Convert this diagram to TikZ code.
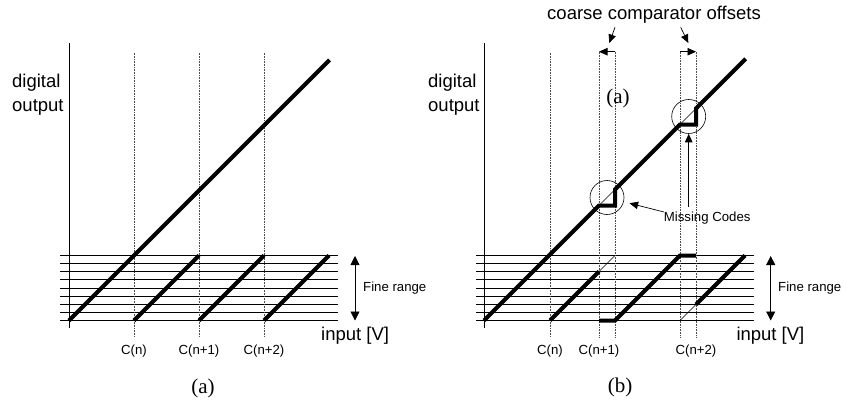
\documentclass[tikz,border=0pt]{standalone}
\usepackage{fontspec}
\setmainfont{Liberation Serif}
\setsansfont{Liberation Sans}
\usetikzlibrary{arrows.meta}
\begin{document}
\begin{tikzpicture}[x=1pt,y=-1pt,
  axis/.style={line width=0.9pt},
  gridline/.style={line width=0.85pt},
  guide/.style={line width=0.6pt, densely dotted, black!70},
  curve/.style={line width=4pt, line join=miter},
  thinline/.style={line width=0.5pt},
  dbl/.style={line width=0.8pt, {Triangle[length=9pt,width=9pt]}-{Triangle[length=9pt,width=9pt]}},
  pointer/.style={line width=0.7pt, -{Triangle[length=8.5pt,width=7.5pt]}},
  ring/.style={circle, draw, line width=0.6pt, minimum size=34pt, inner sep=0pt},
  big/.style={font=\sffamily\fontsize{18.5}{24}\selectfont, inner sep=0pt},
  small/.style={font=\sffamily\fontsize{13.2}{15}\selectfont, inner sep=0pt},
  captext/.style={font=\rmfamily\fontsize{21}{24}\selectfont, inner sep=0pt},
]
\useasboundingbox (0,0) rectangle (846,404);

% ---------------- panel (a) ----------------
\draw[axis] (69,43) -- (69,328);
\foreach \k in {0,...,8} \draw[gridline] (60,{255.5+\k*8.125}) -- (338,{255.5+\k*8.125});
\foreach \x in {134,199,264} \draw[guide] (\x,52.7) -- (\x,337.3);
\draw[curve] (69,320.5) -- (329.5,60);
\foreach \x in {134,199,264} \draw[curve] (\x,320.5) -- (\x+65,255.5);
\draw[dbl] (355,256) -- (355,320.5);
\node[big, anchor=west, align=left] (doa) at (12,95) {digital\\output};
\node[big, anchor=west] (ina) at (321,336) {input [V]};
\node[small] (cna) at (134,351) {C(n)};
\node[small] (cn1a) at (199,351) {C(n+1)};
\node[small] (cn2a) at (264,351) {C(n+2)};
\node[small, anchor=west] (fra) at (363,288) {Fine range};
\node[captext] (capa) at (203,388) {(a)};

% ---------------- panel (b) ----------------
\draw[axis] (484,43) -- (484,328);
\foreach \k in {0,...,8} \draw[gridline] (476.3,{255.5+\k*8.125}) -- (753.7,{255.5+\k*8.125});
\draw[guide] (550,52.7) -- (550,337.3);
\foreach \x in {599,615,680,696} \draw[guide] (\x,51.7) -- (\x,337.3);

\draw[curve] (484,320.5) -- (599,205.5) -- (615,205.5) -- (615,189.5) -- (680,124.5) -- (696,124.5) -- (696,108.5) -- (745.7,58.8);
\draw[thinline] (599,205.5) -- (615,189.5);
\draw[thinline] (680,124.5) -- (696,108.5);
\node[ring] (c1) at (607,197.5) {};
\node[ring] (c2) at (688.7,116.5) {};

\draw[curve] (550,320.5) -- (599,271.5);
\draw[thinline] (599,271.5) -- (615,255.5);
\draw[curve] (599,320.5) -- (615,320.5) -- (680,255.5) -- (696,255.5);
\draw[thinline] (680,320.5) -- (696,304.5);
\draw[curve] (696,304.5) -- (745,255.5);

\draw[dbl] (770.7,256) -- (770.7,320.5);
\node[big, anchor=west, align=left] (dob) at (428,95) {digital\\output};
\node[big, anchor=west] (inb) at (736.3,336) {input [V]};
\node[small] (cnb) at (550,351) {C(n)};
\node[small] (cn1b) at (599,351) {C(n+1)};
\node[small] (cn2b) at (696,351) {C(n+2)};
\node[small, anchor=west] (frb) at (778,288) {Fine range};
\node[captext] (capin) at (618,98) {(a)};
\node[captext] (capb) at (620,387) {(b)};

\node[big] (cco) at (654,15) {coarse comparator offsets};
\coordinate (l1) at (615,27.3);
\coordinate (l2) at (609.3,43);
\coordinate (r1) at (680.7,27.3);
\coordinate (r2) at (688.3,43);
\draw[pointer] (l1) -- (l2);
\draw[pointer] (r1) -- (r2);
\coordinate (ha) at (615,51.7);
\coordinate (hb) at (599,51.7);
\coordinate (hc) at (680,51.7);
\coordinate (hd) at (696,51.7);
\draw[pointer] (ha) -- (hb);
\draw[pointer] (hc) -- (hd);

\node[small, anchor=west] (mc) at (663.7,218.3) {Missing Codes};
\coordinate (mcup) at (688.7,206.7);
\draw[pointer, shorten >=6pt] (mc.north west) -- (c1);
\draw[pointer] (mcup) -- (c2.south);
\end{tikzpicture}
\end{document}
